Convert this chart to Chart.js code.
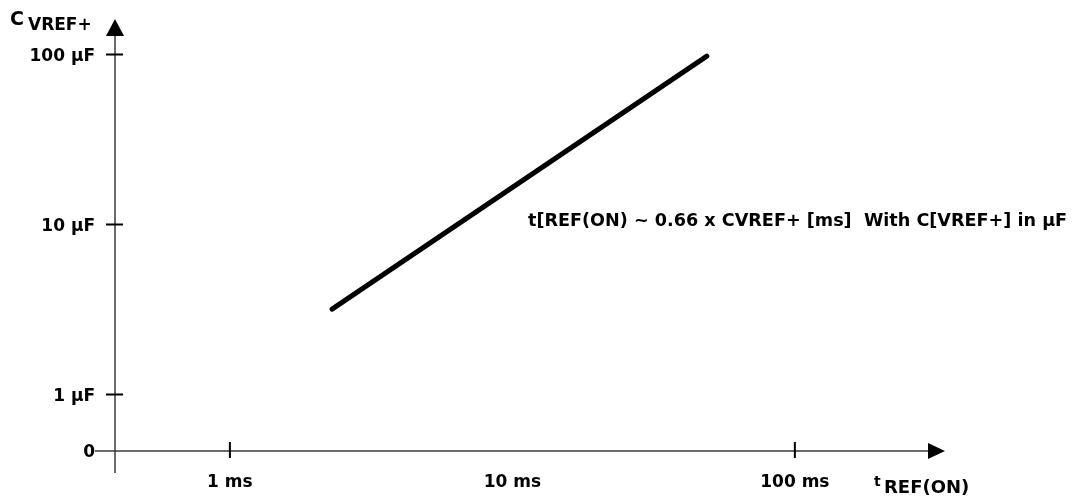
<!DOCTYPE html>
<html>
<head>
<meta charset="utf-8">
<script src="https://cdn.jsdelivr.net/npm/chart.js@4"></script>
<style>
  html, body { margin: 0; padding: 0; background: #fff; }
  #wrap { width: 1079px; height: 498px; }
</style>
</head>
<body>
<div id="wrap"><canvas id="c" width="1079" height="498"></canvas></div>
<script>
// data (log-log, time in ms vs capacitance in µF)
const tRefOn = [2.3, 48.8];
const cVref = [3.18, 97.9];

// axis ranges and tick labels
const xRange = [0.392, 340];
const yRange = [0.465, 162];
const xTicks = [1, 10, 100];
const xTickLabels = ["1 ms", "10 ms", "100 ms"];
const xTickMarks = [1, 100];
const yTicks = [1, 10, 100];
const yTickLabels = ["1 µF", "10 µF", "100 µF"];

const FONT = "'DejaVu Sans', sans-serif";

// axis lines with arrowheads, cross ticks and axis titles
const axesPlugin = {
  id: "arrowAxes",
  afterDatasetsDraw(chart) {
    const { ctx, chartArea: a, scales } = chart;
    const x0 = a.left, y0 = a.bottom;
    ctx.save();

    ctx.strokeStyle = "#3a3a3a";
    ctx.lineWidth = 1.5;
    ctx.beginPath();
    ctx.moveTo(x0, y0 + 22); ctx.lineTo(x0, a.top + 17);
    ctx.moveTo(x0 - 20, y0); ctx.lineTo(a.right - 17, y0);
    ctx.stroke();

    ctx.fillStyle = "#000";
    ctx.beginPath();
    ctx.moveTo(x0, a.top); ctx.lineTo(x0 - 9, a.top + 17); ctx.lineTo(x0 + 9, a.top + 17);
    ctx.closePath(); ctx.fill();
    ctx.beginPath();
    ctx.moveTo(a.right, y0); ctx.lineTo(a.right - 17, y0 - 8); ctx.lineTo(a.right - 17, y0 + 8);
    ctx.closePath(); ctx.fill();

    ctx.strokeStyle = "#000";
    ctx.lineWidth = 2;
    ctx.beginPath();
    yTicks.forEach((v) => {
      const py = scales.y.getPixelForValue(v);
      ctx.moveTo(x0 - 9, py); ctx.lineTo(x0 + 8, py);
    });
    xTickMarks.forEach((v) => {
      const px = scales.x.getPixelForValue(v);
      ctx.moveTo(px, y0 - 9); ctx.lineTo(px, y0 + 7);
    });
    ctx.stroke();

    ctx.textBaseline = "alphabetic";
    ctx.textAlign = "left";
    ctx.font = "bold 19px " + FONT;
    ctx.fillText("C", 10, 25);
    ctx.font = "bold 17px " + FONT;
    ctx.fillText("VREF+", 28, 30);

    ctx.font = "bold 14px " + FONT;
    ctx.fillText("t", 874, 486);
    ctx.font = "bold 18px " + FONT;
    ctx.fillText("REF(ON)", 884, 493);

    ctx.font = "bold 17.6px " + FONT;
    ctx.fillText("t[REF(ON) ~ 0.66 x CVREF+ [ms]  With C[VREF+] in µF", 528, 226);
    ctx.restore();
  },
};

new Chart(document.getElementById("c"), {
  type: "line",
  data: {
    datasets: [{
      data: tRefOn.map((t, i) => ({ x: t, y: cVref[i] })),
      borderColor: "#000",
      borderWidth: 5,
      borderCapStyle: "round",
      pointRadius: 0,
      fill: false,
    }],
  },
  options: {
    responsive: false,
    animation: false,
    events: [],
    layout: { padding: { left: 0, top: 19, right: 134, bottom: 0 } },
    plugins: { legend: { display: false }, tooltip: { enabled: false } },
    scales: {
      x: {
        type: "logarithmic",
        min: xRange[0], max: xRange[1],
        border: { display: false },
        grid: { display: false, drawTicks: false },
        afterBuildTicks: (s) => { s.ticks = xTicks.map((v) => ({ value: v })); },
        afterFit: (s) => { s.height = 47; s.paddingLeft = 0; s.paddingRight = 0; },
        ticks: {
          autoSkip: false, maxRotation: 0, padding: 21,
          color: "#000", font: { family: FONT, size: 17, weight: "bold" },
          callback: (v) => xTickLabels[xTicks.indexOf(v)] ?? "",
        },
      },
      y: {
        type: "logarithmic",
        min: yRange[0], max: yRange[1],
        border: { display: false },
        grid: { display: false, drawTicks: false },
        afterBuildTicks: (s) => { s.ticks = [yRange[0], ...yTicks].map((v) => ({ value: v })); },
        afterFit: (s) => { s.width = 115; s.paddingTop = 0; s.paddingBottom = 0; },
        ticks: {
          autoSkip: false, padding: 20, labelOffset: 2,
          color: "#000", font: { family: FONT, size: 17, weight: "bold" },
          callback: (v) => (v === yRange[0] ? "0" : yTickLabels[yTicks.indexOf(v)] ?? ""),
        },
      },
    },
  },
  plugins: [axesPlugin],
});
</script>
</body>
</html>
